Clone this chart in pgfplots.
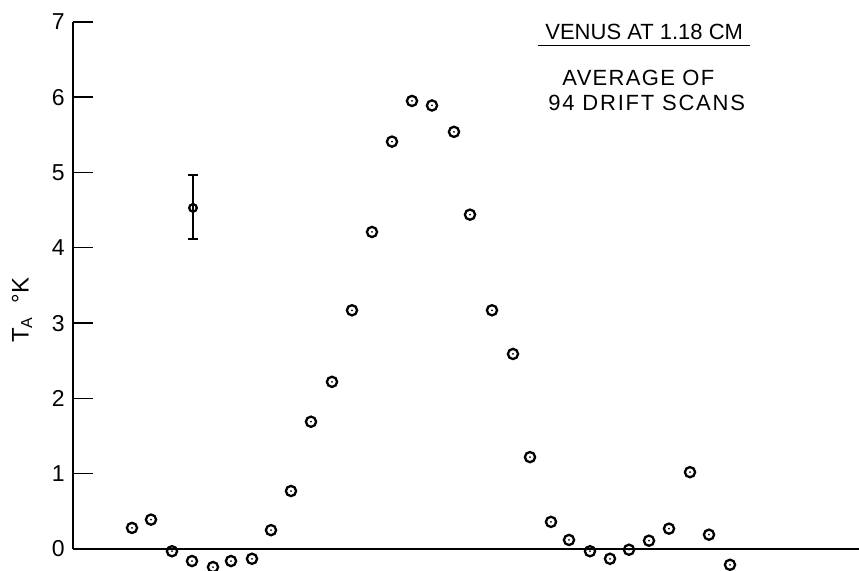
\documentclass[border=0pt]{standalone}
\usepackage{fontspec}
\setmainfont{Liberation Sans}
\usepackage{pgfplots}
\pgfplotsset{compat=1.18}
\pgfdeclareplotmark{odot}{%
  \pgfpathcircle{\pgfpointorigin}{\pgfplotmarksize}%
  \pgfusepathqstroke
  \pgfpathcircle{\pgfpointorigin}{0.5pt}%
  \pgfusepathqfill}
\begin{document}
\begin{tikzpicture}
\begin{axis}[
  x=0.5pt, y=37.65pt,
  xmin=73, xmax=859, ymin=0, ymax=7,
  axis x line=bottom, axis y line=left,
  axis line style={-, line width=1pt, black},
  xtick=\empty, ytick={0,1,...,7},
  tick align=inside, major tick length=10pt,
  ytick style={line width=0.7pt, black},
  yticklabel style={font=\fontsize{11.5}{13}\selectfont, inner sep=4pt},
  /pgf/number format/assume math mode=true,
  clip=false,
]
\addplot[only marks, mark=odot, mark size=2.55pt, mark options={line width=1.15pt, black}] table {
x y
132 0.28
151 0.39
172 -0.03
192 -0.16
213 -0.24
231 -0.16
252 -0.13
271 0.25
291 0.77
311 1.69
332 2.22
352 3.17
372 4.21
392 5.41
412 5.95
432 5.89
454 5.54
470 4.44
492 3.17
513 2.59
530 1.22
551 0.36
569 0.12
590 -0.03
610 -0.13
629 -0.01
649 0.11
669 0.27
690 1.02
709 0.19
730 -0.21
};
\addplot[only marks, black, mark=o, mark size=1.9pt,
  mark options={line width=1pt, black, fill=white},
  error bars/.cd, y dir=both, y explicit, error mark=-,
  error mark options={rotate=90, mark size=2.4pt, line width=1pt, black},
  error bar style={line width=0.8pt, black}]
  coordinates {(193,4.53) += (0,0.44) -= (0,0.41)};
\addplot[only marks, mark=o, mark size=1.9pt, mark options={line width=1pt, black, fill=white}]
  coordinates {(193,4.53)};
\node[rotate=90, font=\fontsize{12}{14}\selectfont] at (axis cs:22,3.17) {T\textsubscript{A}\ \ °K};
\node[anchor=base west, inner sep=0pt, font=\fontsize{11}{13}\selectfont] at (axis cs:545,6.76) {VENUS AT 1.18 CM};
\draw[line width=0.7pt] (axis cs:538,6.69) -- (axis cs:750,6.69);
\node[anchor=base west, inner sep=0pt, font=\fontsize{11}{13}\selectfont\addfontfeatures{LetterSpace=6}] at (axis cs:562,6.16) {AVERAGE OF};
\node[anchor=base west, inner sep=0pt, font=\fontsize{11}{13}\selectfont\addfontfeatures{LetterSpace=8}] at (axis cs:548,5.82) {94 DRIFT SCANS};
\coordinate (bbl) at (axis cs:0,-0.2922);
\coordinate (btr) at (axis cs:859,7.2908);
\end{axis}
\pgfresetboundingbox
\path[use as bounding box] (bbl) rectangle (btr);
\end{tikzpicture}
\end{document}
